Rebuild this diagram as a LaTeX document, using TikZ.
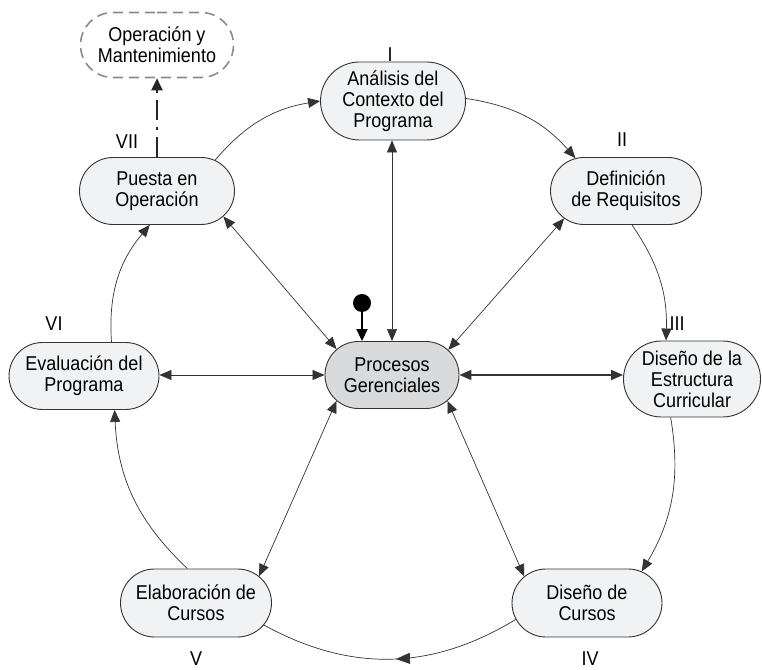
\documentclass[tikz,border=0pt]{standalone}
\usepackage{fontspec}
\setmainfont[FakeStretch=0.9]{Liberation Sans}
\usetikzlibrary{arrows.meta,shapes.misc,decorations.markings}
\definecolor{boxfill}{HTML}{F1F2F3}
\definecolor{procfill}{HTML}{D9DADC}
\definecolor{edgegray}{HTML}{333333}
\definecolor{dashgray}{HTML}{8A8A8A}
\begin{document}
\begin{tikzpicture}[x=1pt,y=1pt,
  txt/.style={font=\fontsize{20}{21}\selectfont},
  box/.style={txt, rounded rectangle, draw=edgegray, line width=0.9pt, fill=boxfill, align=center, inner sep=0pt},
  procbox/.style={box, fill=procfill},
  dashbox/.style={box, draw=dashgray, fill=white, line width=1.6pt, dash pattern=on 10pt off 6pt},
  tip/.tip={Triangle[length=12pt,width=10pt]},
  cyc/.style={line width=0.7pt, draw=edgegray, -tip},
  spoke/.style={line width=0.7pt, draw=edgegray, tip-tip},
  thickspoke/.style={line width=1.8pt, draw=edgegray, tip-tip},
  midarrow/.style={line width=0.7pt, draw=edgegray, postaction={decorate},
    decoration={markings, mark=at position 0.48 with {\arrow{Triangle[length=14pt,width=11pt]}}}},
  lbl/.style={txt, inner sep=0pt}]
\useasboundingbox (0,0) rectangle (762,669);

% numeral labels
\node[lbl] (lI) at (390,614) {I};
\node[lbl] (lII) at (622,529) {II};
\node[lbl] (lIII) at (677,345) {III};
\node[lbl] (lIV) at (590,10) {IV};
\node[lbl] (lV) at (196,10) {V};
\node[lbl] (lVI) at (54,345) {VI};
\node[lbl] (lVII) at (127,527) {VII};

% nodes
\node[dashbox, minimum width=153pt, minimum height=65pt] (oper) at (157,624) {Operación y\\Mantenimiento};
\node[box, minimum width=145pt, minimum height=78pt] (anal) at (393,568) {Análisis del\\Contexto del\\Programa};
\node[box, minimum width=151pt, minimum height=67pt] (def) at (626,478) {Definición\\de Requisitos};
\node[box, minimum width=155pt, minimum height=67pt] (puesta) at (157,478) {Puesta en\\Operación};
\node[box, minimum width=150pt, minimum height=67pt] (eval) at (84,293) {Evaluación del\\Programa};
\node[procbox, minimum width=134pt, minimum height=67pt] (proc) at (392,294) {Procesos\\Gerenciales};
\node[box, minimum width=137pt, minimum height=76pt] (estr) at (692,290) {Diseño de la\\Estructura\\Curricular};
\node[box, minimum width=151pt, minimum height=68pt] (elab) at (196,66) {Elaboración de\\Cursos};
\node[box, minimum width=150pt, minimum height=68pt] (dcur) at (587,66) {Diseño de\\Cursos};
\node[circle, fill=black, minimum size=18pt, inner sep=0pt] (dot) at (362,366) {};

% cycle
\draw[cyc] (anal.2) to[bend left=20] (def.147);
\draw[cyc] (def.-80) to[bend left=18] (estr.124);
\draw[cyc] (estr.-119) to[bend left=20] (dcur.30);
\draw[midarrow] (dcur.193) to[bend left=30] (elab.-18);
\draw[cyc] (elab.104) to[bend left=22] (eval.-48);
\draw[cyc] (eval.51) to[bend left=22] (puesta.-102);
\draw[cyc] (puesta.28) to[bend left=20] (anal.180);

% spokes
\draw[spoke] (proc.north) -- (proc.north |- anal.south);
\draw[spoke] (proc.155) -- (puesta.-21);
\draw[spoke] (proc.24) -- (def.204);
\draw[spoke] (proc.west) -- (proc.west -| eval.east);
\draw[thickspoke] (proc.east) -- (proc.east -| estr.west);
\draw[spoke] (proc.205) -- (elab.23);
\draw[spoke] (proc.-25) -- (dcur.157);
\draw[line width=1.8pt, -{Triangle[length=12pt,width=11pt]}] (dot.center) -- (dot |- proc.north);

% dash-dot arrow
\draw[line width=2.5pt, black!85, dash pattern=on 20pt off 7pt on 3pt off 7pt,
  -{Triangle[length=12pt,width=11pt]}] (puesta.north) -- (oper.south);
\end{tikzpicture}
\end{document}
